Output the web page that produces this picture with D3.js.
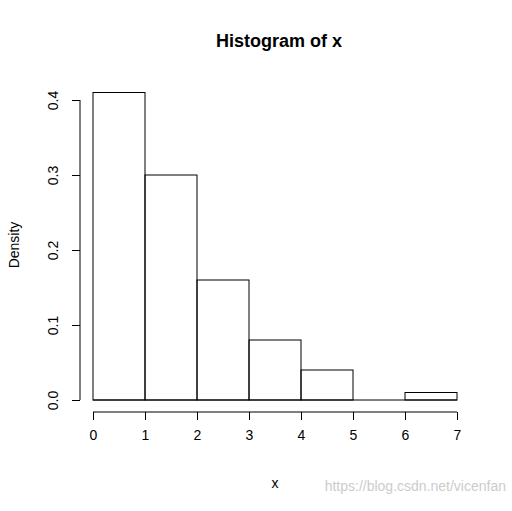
<!DOCTYPE html>
<html><head><meta charset="utf-8">
<script src="https://cdn.jsdelivr.net/npm/d3@7"></script>
<style>body{margin:0;background:#fff}text{font-family:Arial,"Liberation Sans",sans-serif}</style>
</head><body>
<svg width="512" height="511"></svg>
<script>
// histogram bins and densities
var breaks = [0, 1, 2, 3, 4, 5, 6, 7];
var density = [0.41, 0.30, 0.16, 0.08, 0.04, 0.00, 0.01];
var yTicks = [0, 0.1, 0.2, 0.3, 0.4];

var svg = d3.select("svg");
var x = d3.scaleLinear().domain([0, 7]).range([93, 457]),
    y = d3.scaleLinear().domain([0, 0.4]).range([400, 100]);

svg.selectAll(".bar")
  .data(density)
  .enter().append("rect")
    .attr("x", function(d, i) { return x(breaks[i]); })
    .attr("y", function(d) { return y(d); })
    .attr("width", function(d, i) { return x(breaks[i + 1]) - x(breaks[i]); })
    .attr("height", function(d) { return y(0) - y(d); })
    .attr("fill", "none").attr("stroke", "#000");
// zero-height bins still show as a line on the baseline
svg.append("line").attr("x1", x(0)).attr("x2", x(7)).attr("y1", y(0)).attr("y2", y(0))
  .attr("stroke", "#000");

var xa = svg.append("g").attr("transform", "translate(0,412)")
  .call(d3.axisBottom(x).tickValues(breaks).tickSize(8).tickPadding(10).tickFormat(d3.format("d")));
var ya = svg.append("g").attr("transform", "translate(80,0)")
  .call(d3.axisLeft(y).tickValues(yTicks).tickSize(8).tickFormat(d3.format(".1f")));
[xa, ya].forEach(function(a) {
  a.select(".domain").attr("d", a === xa ? "M93,0H457" : "M0,400V100");
  a.selectAll("text").attr("font-size", 14).attr("fill", "#000");
});
ya.selectAll(".tick text").attr("text-anchor", "middle")
  .attr("transform", "rotate(-90)").attr("x", 0).attr("y", -22).attr("dy", 0);

svg.append("text").attr("x", 279).attr("y", 47).attr("text-anchor", "middle")
  .attr("font-size", 18).attr("font-weight", "bold").text("Histogram of x");
svg.append("text").attr("x", 275).attr("y", 488).attr("text-anchor", "middle")
  .attr("font-size", 14).text("x");
svg.append("text").attr("transform", "translate(19,245) rotate(-90)").attr("text-anchor", "middle")
  .attr("font-size", 14).text("Density");
svg.append("text").attr("x", 506).attr("y", 491).attr("text-anchor", "end")
  .attr("font-size", 14).attr("fill", "#ccc").text("https://blog.csdn.net/vicenfan");
</script>
</body></html>
